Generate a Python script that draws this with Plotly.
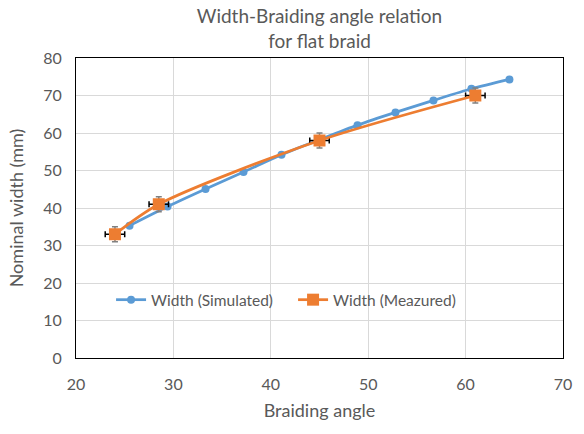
import plotly.graph_objects as go

# Simulated width vs braiding angle
sim_angle = [25.5, 29.4, 33.3, 37.2, 41.1, 45.0, 48.9, 52.8, 56.7, 60.6, 64.5]
sim_width = [35.3, 40.4, 45.1, 49.6, 54.2, 58.2, 62.1, 65.5, 68.7, 71.8, 74.3]

# Measured width vs braiding angle, with error estimates
meas_angle = [24.0, 28.5, 45.0, 61.0]
meas_width = [33.0, 41.0, 58.0, 70.0]
meas_angle_err = [1.0, 1.0, 1.0, 1.0]
meas_width_err = [2.0, 2.0, 2.0, 2.0]

x_ticks = [20, 30, 40, 50, 60, 70]
y_ticks = [0, 10, 20, 30, 40, 50, 60, 70, 80]

BLUE = "#5B9BD5"
ORANGE = "#ED7D31"
TEXT = "#595959"
FONT = "Lato, Open Sans, sans-serif"

fig = go.Figure()

fig.add_trace(go.Scatter(
    x=sim_angle, y=sim_width, name="Width (Simulated)",
    mode="lines+markers", line=dict(color=BLUE, width=2.75, shape="spline", smoothing=0.8),
    marker=dict(symbol="circle", size=8, color=BLUE),
))

fig.add_trace(go.Scatter(
    x=meas_angle, y=meas_width, name="Width (Meazured)",
    mode="lines+markers", line=dict(color=ORANGE, width=2.75, shape="spline", smoothing=0.8),
    marker=dict(symbol="square", size=12, color=ORANGE),
    error_x=dict(type="data", array=meas_angle_err, color="#000000", thickness=1.5, width=3),
    error_y=dict(type="data", array=meas_width_err, color="#808080", thickness=1.5, width=3),
))

axis_common = dict(
    showgrid=True, gridcolor="#D9D9D9", gridwidth=1,
    showline=True, linecolor="#000000", linewidth=1, mirror=True,
    zeroline=False, ticks="", tickfont=dict(family=FONT, size=16, color=TEXT),
)

fig.update_xaxes(range=[20, 70], tickvals=x_ticks, ticklabelstandoff=12,
                 title=dict(text="Braiding angle", font=dict(family=FONT, size=18, color=TEXT), standoff=12),
                 **axis_common)
fig.update_yaxes(range=[0, 80], tickvals=y_ticks, ticklabelstandoff=10,
                 title=dict(text="Nominal width (mm)", font=dict(family=FONT, size=18, color=TEXT), standoff=14),
                 **axis_common)

fig.update_layout(
    width=584, height=434,
    margin=dict(l=76, r=16, t=58, b=76),
    paper_bgcolor="white", plot_bgcolor="white",
    title=dict(text="Width-Braiding angle relation<br>for flat braid",
               font=dict(family=FONT, size=19, color=TEXT),
               x=0.5, xanchor="center", xref="paper", yref="container", y=0.947, yanchor="middle"),
    legend=dict(orientation="h", x=0.072, y=0.193, xanchor="left", yanchor="middle",
                bgcolor="rgba(0,0,0,0)", font=dict(family=FONT, size=15.5, color=TEXT),
                entrywidth=137, entrywidthmode="pixels"),
    showlegend=True,
)

fig.write_html("out.html")
